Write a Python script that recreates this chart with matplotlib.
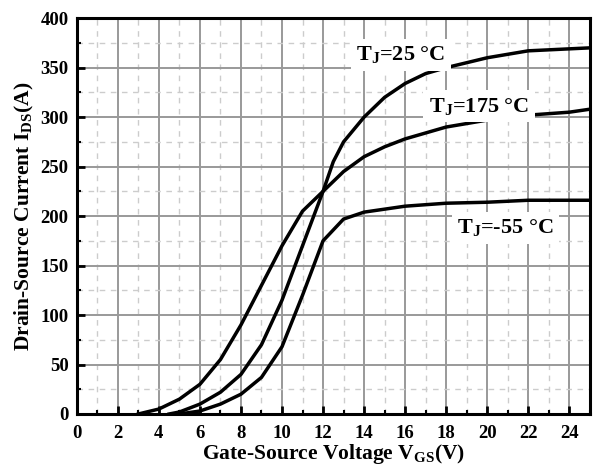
import matplotlib
matplotlib.use("Agg")
import matplotlib.pyplot as plt
from matplotlib.ticker import MultipleLocator

plt.rcParams['font.family'] = ['Liberation Serif', 'DejaVu Serif']
plt.rcParams['font.weight'] = 'bold'
plt.rcParams['mathtext.fontset'] = 'custom'
plt.rcParams['mathtext.rm'] = 'Liberation Serif:bold'
plt.rcParams['mathtext.it'] = 'Liberation Serif:bold'
plt.rcParams['mathtext.bf'] = 'Liberation Serif:bold'

# Transfer characteristics
vgs_25 = [4.5, 5, 6, 7, 8, 9, 10, 11, 12, 12.5, 13, 14, 15, 16, 17, 18, 20, 22, 25]
ids_25 = [0, 2, 10, 22, 40, 70, 115, 170, 225, 255, 275, 300, 320, 334, 344, 350, 360, 367, 370]

vgs_175 = [3, 4, 5, 6, 7, 8, 9, 10, 11, 12, 13, 14, 15, 16, 18, 20, 22, 24, 25]
ids_175 = [0, 5, 15, 30, 55, 90, 130, 170, 205, 225, 245, 260, 270, 278, 290, 297, 302, 305, 308]

vgs_m55 = [5, 6, 7, 8, 9, 10, 11, 12, 13, 14, 16, 18, 20, 22, 25]
ids_m55 = [0, 3, 10, 20, 37, 68, 120, 175, 197, 204, 210, 213, 214, 216, 216]

x_ticks = list(range(0, 25, 2))
y_ticks = list(range(0, 401, 50))

fig = plt.figure(figsize=(6, 4.66), dpi=100)
ax = fig.add_axes([0.128, 0.1116, 0.855, 0.8494])

ax.plot(vgs_25, ids_25, color='black', lw=2.5, zorder=3)
ax.plot(vgs_175, ids_175, color='black', lw=2.5, zorder=3)
ax.plot(vgs_m55, ids_m55, color='black', lw=2.5, zorder=3)

box = dict(facecolor='white', edgecolor='none', pad=4)
ax.text(15.8, 363, r'T$_\mathrm{J}$=25 °C', fontsize=16, fontweight='bold',
        ha='center', va='center', bbox=box, zorder=4)
ax.text(19.6, 311, r'T$_\mathrm{J}$=175 °C', fontsize=16, fontweight='bold',
        ha='center', va='center', bbox=box, zorder=4)
ax.text(20.9, 188, r'T$_\mathrm{J}$=-55 °C', fontsize=16, fontweight='bold',
        ha='center', va='center', bbox=box, zorder=4)

ax.set_xlim(0, 25)
ax.set_ylim(0, 400)
ax.set_xticks(x_ticks)
ax.set_yticks(y_ticks)
ax.xaxis.set_minor_locator(MultipleLocator(1))
ax.yaxis.set_minor_locator(MultipleLocator(25))

ax.grid(which='major', color='#999999', lw=1.4, ls='-', zorder=1)
ax.grid(which='minor', color='#cccccc', lw=1.0, ls=(0, (4, 4)), zorder=1)
ax.set_axisbelow(True)

ax.tick_params(which='major', direction='in', length=6, width=2, labelsize=13.5)
ax.tick_params(axis='x', which='major', pad=8)
ax.tick_params(axis='y', which='major', pad=6)
ax.tick_params(which='minor', direction='in', length=3, width=1.5)
for lab in ax.get_xticklabels() + ax.get_yticklabels():
    lab.set_fontweight('bold')
for sp in ax.spines.values():
    sp.set_linewidth(2.2)

ax.set_xlabel(r'Gate-Source Voltage V$_\mathrm{GS}$(V)', fontsize=15.5, fontweight='bold', labelpad=0)
ax.set_ylabel(r'Drain-Source Current I$_\mathrm{DS}$(A)', fontsize=15.5, fontweight='bold', labelpad=3)

fig.savefig('out.png', dpi=100)
